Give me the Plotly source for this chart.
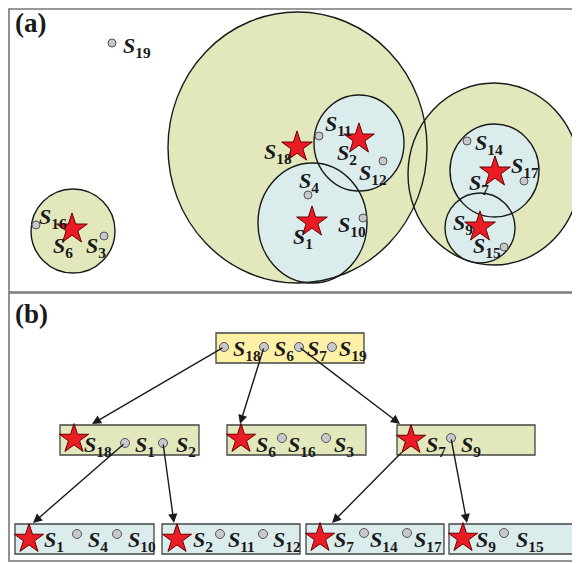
import plotly.graph_objects as go

# ---------------- data: panel (a) points ----------------
pt_names  = ["19", "16", "6", "3", "18", "11", "2", "12", "4", "1", "10", "14", "17", "7", "9", "15"]
pt_kind   = ["dot", "dot", "star", "dot", "star", "dot", "star", "dot", "dot", "star", "dot", "dot", "dot", "star", "star", "dot"]
pt_x      = [112, 36, 72, 104, 297, 319, 359, 383, 308, 312, 363, 467, 524, 495, 480, 504]
pt_y      = [43, 225, 229, 236, 147, 136, 139, 161, 195, 222, 218, 141, 181, 172, 227, 247]
lab_x     = [121, 37, 51, 84, 262, 323, 335, 357, 297, 291, 336, 473, 509, 467, 451, 471]
lab_y     = [43, 214, 243, 243, 149, 121, 150, 170, 178, 234, 222, 140, 163, 180, 220, 243]

# circles (clusters): center, radii, level
circ_cx    = [73, 297.5, 494, 312.5, 359, 494.5, 480]
circ_cy    = [231, 147.5, 174, 223, 143, 170.5, 228]
circ_rx    = [42, 129.5, 86, 54.5, 45, 44.5, 35]
circ_ry    = [42, 135.5, 91, 60, 48, 46.5, 35]
circ_level = ["outer", "outer", "outer", "inner", "inner", "inner", "inner"]

# ---------------- data: panel (b) tree ----------------
box_x0    = [216, 60, 227, 397, 15, 162, 306, 449]
box_x1    = [364, 199, 366, 535, 154, 300, 444, 600]
box_y0    = [333, 425, 425, 425, 524, 524, 524, 524]
box_y1    = [363, 455, 455, 455, 554, 554, 554, 554]
box_level = ["root", "mid", "mid", "mid", "leaf", "leaf", "leaf", "leaf"]

item_names  = ["18", "6", "7", "19",
               "18", "1", "2", "6", "16", "3", "7", "9",
               "1", "4", "10", "2", "11", "12", "7", "14", "17", "9", "15"]
item_kind   = ["dot", "dot", "dot", "dot",
               "star", "dot", "dot", "star", "dot", "dot", "star", "dot",
               "star", "dot", "dot", "star", "dot", "dot", "star", "dot", "dot", "star", "dot"]
item_mx     = [224, 264, 299, 332,
               74, 125, 163, 241, 282, 326, 411, 451,
               29, 77, 117, 177, 220, 263, 320, 364, 407, 463, 504]
item_my     = [347, 347, 347, 347,
               439, 443, 443, 439, 438, 438, 440, 438,
               539, 534, 534, 539, 534, 534, 538, 533, 533, 538, 533]
item_tx     = [231, 272, 305, 337,
               82, 133, 174, 254, 286, 332, 424, 459,
               42, 86, 126, 191, 226, 271, 332, 368, 412, 474, 514]
item_ty     = [346, 346, 346, 346,
               442, 442, 442, 442, 442, 442, 442, 442,
               537, 537, 537, 537, 537, 537, 537, 537, 537, 537, 537]

arrow_x0 = [224, 264, 299, 125, 163, 403, 451]
arrow_y0 = [347, 347, 347, 443, 443, 451, 438]
arrow_x1 = [92, 240, 400, 33, 174, 332, 467]
arrow_y1 = [424, 424, 424, 523, 523, 523, 523]

panel_labels = ["(a)", "(b)"]
panel_lab_x  = [13, 13]
panel_lab_y  = [23, 314]

# ---------------- styles ----------------
OUTER_FILL = "#e2e8bc"
INNER_FILL = "#dbeced"
ROOT_FILL = "#fdf1a8"
STAR_RED = "#ec1c24"
DOT_GRAY = "#c8c8cc"
FONT = "Liberation Serif"
PAGE_OFFSET = 8  # default body margin of the written page

fig = go.Figure()
shapes = []

# panel frames
shapes.append(dict(type="rect", x0=9, x1=600, y0=9, y1=292, line=dict(color="#777", width=1.6)))
shapes.append(dict(type="rect", x0=9, x1=600, y0=293, y1=561, line=dict(color="#777", width=1.6)))

# circle fills (outer first, then inner), then outlines
for lvl, col in (("outer", OUTER_FILL), ("inner", INNER_FILL)):
    for cx, cy, rx, ry, l in zip(circ_cx, circ_cy, circ_rx, circ_ry, circ_level):
        if l == lvl:
            shapes.append(dict(type="circle", x0=cx - rx, x1=cx + rx, y0=cy - ry, y1=cy + ry,
                               fillcolor=col, line=dict(width=0), layer="below"))
for cx, cy, rx, ry in zip(circ_cx, circ_cy, circ_rx, circ_ry):
    shapes.append(dict(type="circle", x0=cx - rx, x1=cx + rx, y0=cy - ry, y1=cy + ry,
                       fillcolor="rgba(0,0,0,0)", line=dict(color="#1a1a1a", width=1.4), layer="below"))

# boxes
fills = {"root": ROOT_FILL, "mid": OUTER_FILL, "leaf": INNER_FILL}
for x0, x1, y0, y1, l in zip(box_x0, box_x1, box_y0, box_y1, box_level):
    shapes.append(dict(type="rect", x0=x0, x1=x1, y0=y0, y1=y1, fillcolor=fills[l],
                       line=dict(color="#444", width=1.3), layer="below"))

annotations = []

def s_label(n):
    return "<b><i>S</i><sub>%s</sub></b>" % n

# panel (a) markers
for kind, sym, size, col, lc in (("dot", "circle", 8, DOT_GRAY, "#555"), ("star", "star", 23, STAR_RED, "#600")):
    xs = [x for x, k in zip(pt_x, pt_kind) if k == kind]
    ys = [y for y, k in zip(pt_y, pt_kind) if k == kind]
    fig.add_trace(go.Scatter(x=xs, y=ys, mode="markers", hoverinfo="skip", showlegend=False,
                             marker=dict(symbol=sym, size=size, color=col, line=dict(color=lc, width=1))))
for n, x, y in zip(pt_names, lab_x, lab_y):
    annotations.append(dict(x=x, y=y + 4, text=s_label(n), showarrow=False, xanchor="left", yanchor="middle",
                            font=dict(family=FONT, size=22, color="#1a1a1a")))

# arrows
for x0, y0, x1, y1 in zip(arrow_x0, arrow_y0, arrow_x1, arrow_y1):
    annotations.append(dict(x=x1, y=y1, ax=x0, ay=y0, xref="x", yref="y", axref="x", ayref="y",
                            showarrow=True, arrowhead=2, arrowsize=1.3, arrowwidth=1.4, arrowcolor="#1a1a1a",
                            text=""))

# panel (b) markers
for kind, sym, size, col, lc in (("dot", "circle", 9, DOT_GRAY, "#555"), ("star", "star", 22, STAR_RED, "#600")):
    xs = [x for x, k in zip(item_mx, item_kind) if k == kind]
    ys = [y for y, k in zip(item_my, item_kind) if k == kind]
    fig.add_trace(go.Scatter(x=xs, y=ys, mode="markers", hoverinfo="skip", showlegend=False,
                             marker=dict(symbol=sym, size=size, color=col, line=dict(color=lc, width=1))))
for n, x, y in zip(item_names, item_tx, item_ty):
    annotations.append(dict(x=x, y=y + 4, text=s_label(n), showarrow=False, xanchor="left", yanchor="middle",
                            font=dict(family=FONT, size=22, color="#1a1a1a")))

for t, x, y in zip(panel_labels, panel_lab_x, panel_lab_y):
    annotations.append(dict(x=x, y=y, text="<b>%s</b>" % t, showarrow=False, xanchor="left", yanchor="middle",
                            font=dict(family=FONT, size=27, color="#1a1a1a")))

fig.update_layout(
    width=580, height=563, margin=dict(l=0, r=0, t=0, b=0),
    paper_bgcolor="white", plot_bgcolor="white",
    shapes=shapes, annotations=annotations,
    xaxis=dict(range=[PAGE_OFFSET, 580 + PAGE_OFFSET], visible=False, fixedrange=True),
    yaxis=dict(range=[563 + PAGE_OFFSET, PAGE_OFFSET], visible=False, fixedrange=True),
)
fig.write_html("out.html")
